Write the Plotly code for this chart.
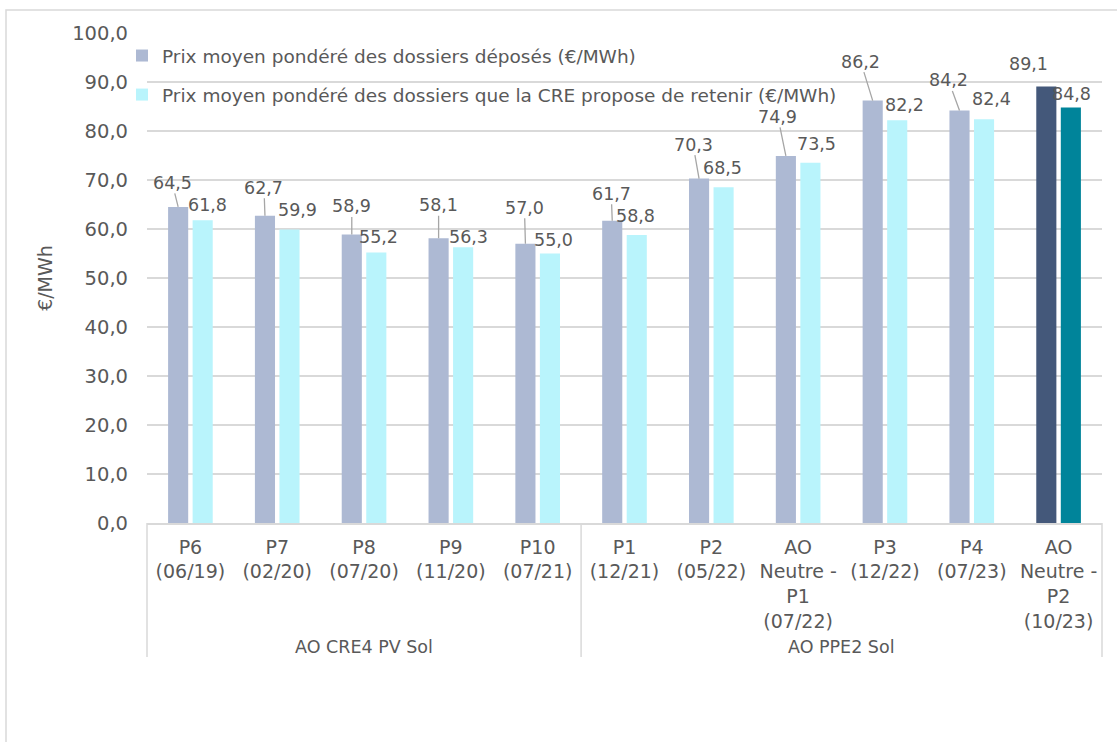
import plotly.graph_objects as go

# Tender rounds (two-level axis: round label, then tender family)
categories = [
    "P6<br>(06/19)", "P7<br>(02/20)", "P8<br>(07/20)", "P9<br>(11/20)", "P10<br>(07/21)",
    "P1<br>(12/21)", "P2<br>(05/22)", "AO<br>Neutre -<br>P1<br>(07/22)",
    "P3<br>(12/22)", "P4<br>(07/23)", "AO<br>Neutre -<br>P2<br>(10/23)",
]
groups = ["AO CRE4 PV Sol", "AO PPE2 Sol"]
group_sizes = [5, 6]

prix_deposes = [64.5, 62.7, 58.9, 58.1, 57.0, 61.7, 70.3, 74.9, 86.2, 84.2, 89.1]
prix_retenus = [61.8, 59.9, 55.2, 56.3, 55.0, 58.8, 68.5, 73.5, 82.2, 82.4, 84.8]

series_names = [
    "Prix moyen pondéré des dossiers déposés (€/MWh)",
    "Prix moyen pondéré des dossiers que la CRE propose de retenir (€/MWh)",
]

y_ticks = [0, 10, 20, 30, 40, 50, 60, 70, 80, 90, 100]

# ---- styling ----
FONT = "DejaVu Sans"
TEXT = "#595959"
GRID = "#D9D9D9"
col_dep = ["#ADB9D3"] * 10 + ["#44587A"]
col_ret = ["#B9F4FC"] * 10 + ["#00849A"]

# label placement (pixel offsets from bar top to label centre)
dep_label_off = [(-6, -24), (-1, -28), (0, -28), (0, -33), (-1, -36), (-1, -27),
                 (-6, -34), (-8, -39), (-12, -39), (-11, -30), (-18, -22)]
dep_leader = [True] * 10 + [False]
ret_label_off = [(5, -15), (8, -19), (2, -16), (5, -10), (4, -14), (-1, -19),
                 (-1, -19), (6, -19), (7, -15), (7, -20), (1, -13)]

W, H = 1117, 742
ML, MR, MT, MB = 147, 15, 33, 219
plot_w = W - ML - MR
plot_h = H - MT - MB

BARGAP = 0.435
half_slot = (1 - BARGAP) / 4  # centre offset of each bar inside its group

fig = go.Figure()
fig.add_trace(go.Bar(
    x=categories, y=prix_deposes, name=series_names[0],
    marker=dict(color=col_dep, line=dict(width=0)),
    legendgroup="a",
))
fig.add_trace(go.Bar(
    x=categories, y=prix_retenus, name=series_names[1],
    marker=dict(color=col_ret, line=dict(width=0)),
    legendgroup="b",
))


def fmt(v):
    return f"{v:.1f}".replace(".", ",")


annotations = []
for i, v in enumerate(prix_deposes):
    dx, dy = dep_label_off[i]
    if dep_leader[i]:
        annotations.append(dict(
            x=i - half_slot, y=v, xref="x", yref="y", text=fmt(v),
            showarrow=True, arrowhead=0, arrowwidth=1.3, arrowcolor="#A6A6A6",
            ax=dx, ay=dy, standoff=0, borderpad=0,
            font=dict(family=FONT, size=17.5, color=TEXT),
        ))
    else:
        annotations.append(dict(
            x=i - half_slot, y=v, xref="x", yref="y", text=fmt(v),
            showarrow=False, xshift=dx, yshift=-dy,
            font=dict(family=FONT, size=17.5, color=TEXT),
        ))
for i, v in enumerate(prix_retenus):
    dx, dy = ret_label_off[i]
    annotations.append(dict(
        x=i + half_slot, y=v, xref="x", yref="y", text=fmt(v),
        showarrow=False, xshift=dx, yshift=-dy,
        font=dict(family=FONT, size=17.5, color=TEXT),
    ))

# group labels and dividers below the category labels
n_cat = len(categories)
div_bottom = -(657 - (H - MB)) / plot_h
label_y = -(647 - (H - MB)) / plot_h
shapes = []
start = 0
bounds = [0.0]
for g, size in zip(groups, group_sizes):
    x0 = start / n_cat
    x1 = (start + size) / n_cat
    annotations.append(dict(
        x=(x0 + x1) / 2, y=label_y, xref="paper", yref="paper", text=g,
        showarrow=False, xanchor="center", yanchor="middle",
        font=dict(family=FONT, size=17.5, color=TEXT),
    ))
    bounds.append(x1)
    start += size
for b in bounds:
    shapes.append(dict(type="line", xref="paper", yref="paper",
                       x0=b, x1=b, y0=0, y1=div_bottom,
                       line=dict(color=GRID, width=1.5)))

# chart-area frame
shapes.append(dict(type="rect", xref="paper", yref="paper",
                   x0=(6 - ML) / plot_w, x1=(W + 20 - ML) / plot_w,
                   y0=-(H + 20 - (H - MB)) / plot_h, y1=((H - MB) - 10) / plot_h,
                   line=dict(color=GRID, width=1.5), layer="below"))

fig.update_layout(
    width=W, height=H, autosize=False,
    margin=dict(l=ML, r=MR, t=MT, b=MB, pad=0),
    paper_bgcolor="white", plot_bgcolor="white",
    barmode="group", bargap=BARGAP, bargroupgap=0.18,
    separators=", ",
    font=dict(family=FONT, color=TEXT),
    showlegend=True,
    legend=dict(
        x=(122 - ML) / plot_w, y=((H - MB) - 37) / plot_h,
        xanchor="left", yanchor="top",
        bgcolor="rgba(0,0,0,0)", borderwidth=0,
        font=dict(family=FONT, size=18.5, color=TEXT),
        tracegroupgap=12, traceorder="grouped",
    ),
    annotations=annotations,
    shapes=shapes,
)
fig.update_xaxes(
    type="category", showgrid=False, ticks="",
    showline=True, linecolor=GRID, linewidth=1.5,
    tickfont=dict(family=FONT, size=19, color=TEXT),
    ticklabelstandoff=6, fixedrange=True,
)
fig.update_yaxes(
    range=[0, 100], tickvals=y_ticks, tickformat=".1f",
    showgrid=True, gridcolor=GRID, gridwidth=1.5,
    zeroline=False, showline=False, ticks="",
    tickfont=dict(family=FONT, size=19.5, color=TEXT),
    ticklabelstandoff=18,
    title=dict(text="€/MWh", font=dict(family=FONT, size=19, color=TEXT), standoff=14),
    fixedrange=True,
)

fig.write_html("out.html")
